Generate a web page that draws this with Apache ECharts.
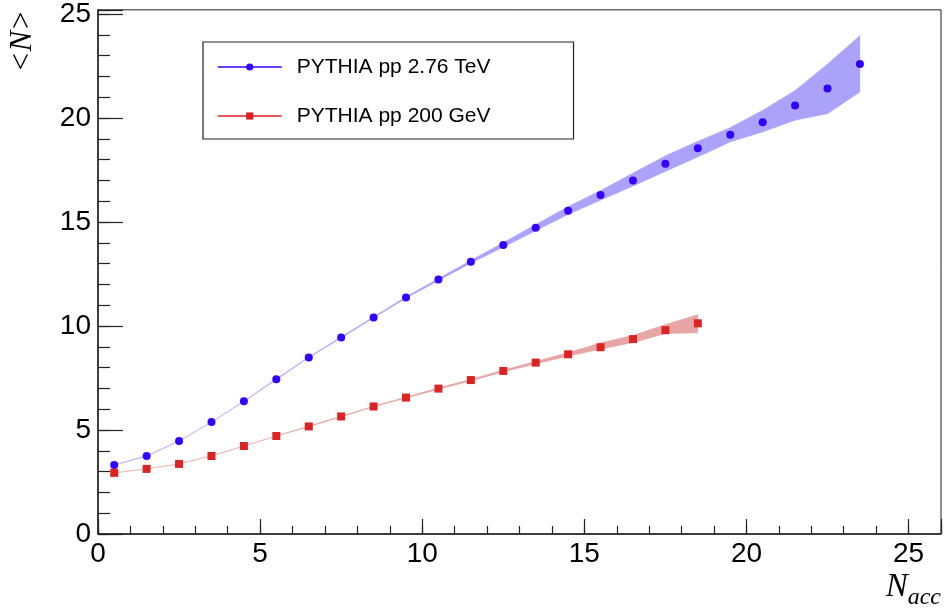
<!DOCTYPE html>
<html>
<head>
<meta charset="utf-8">
<script src="https://cdn.jsdelivr.net/npm/echarts@6/dist/echarts.min.js"></script>
<style>html,body{margin:0;padding:0;background:#fff;}#c{width:944px;height:610px;}</style>
</head>
<body>
<div id="c"></div>
<script>
// N_acc bin centres
const xBlue = [0.5,1.5,2.5,3.5,4.5,5.5,6.5,7.5,8.5,9.5,10.5,11.5,12.5,13.5,14.5,15.5,16.5,17.5,18.5,19.5,20.5,21.5,22.5,23.5];
const xRed  = [0.5,1.5,2.5,3.5,4.5,5.5,6.5,7.5,8.5,9.5,10.5,11.5,12.5,13.5,14.5,15.5,16.5,17.5,18.5];
// PYTHIA pp 2.76 TeV: mean and band
const blueMean = [3.32,3.75,4.47,5.38,6.38,7.44,8.49,9.45,10.41,11.37,12.23,13.09,13.9,14.72,15.54,16.3,17.0,17.8,18.54,19.2,19.8,20.6,21.42,22.6];
const blueLow  = [3.31,3.74,4.46,5.37,6.37,7.42,8.47,9.42,10.38,11.33,12.18,13.02,13.79,14.58,15.36,16.05,16.72,17.43,18.12,18.85,19.33,19.89,20.20,21.25];
const blueHigh = [3.33,3.76,4.48,5.39,6.39,7.46,8.51,9.48,10.44,11.41,12.28,13.16,14.01,14.88,15.75,16.52,17.35,18.19,18.88,19.54,20.37,21.32,22.60,23.96];
// PYTHIA pp 200 GeV: mean and band
const redMean = [2.94,3.13,3.37,3.75,4.23,4.71,5.17,5.65,6.13,6.56,6.99,7.40,7.84,8.24,8.64,8.98,9.37,9.80,10.13];
const redLow  = [2.93,3.12,3.36,3.74,4.22,4.70,5.15,5.63,6.11,6.53,6.95,7.36,7.79,8.17,8.54,8.88,9.20,9.63,9.67];
const redHigh = [2.95,3.14,3.38,3.76,4.24,4.72,5.19,5.67,6.15,6.59,7.03,7.44,7.89,8.31,8.72,9.20,9.55,10.07,10.55];
// axis ticks
const xMajor = 5, xMinor = 1, xMin = 0, xMax = 26;
const yMajor = 5, yMinor = 1, yMin = 0, yMax = 25.2;
const names = ['PYTHIA pp 2.76 TeV', 'PYTHIA pp 200 GeV'];

const blueC = '#3300ff', blueBand = '#aba2fa';
const redC = '#dd2222', redBand = '#e8a5a5';
const FONT = 'Liberation Sans, Arial, sans-serif';

function pairs(xs, ys){ return xs.map((x,i)=>[x, ys[i]]); }
function bandData(xs, lo, hi){ return xs.map((x,i)=>[x, lo[i], hi[i]]); }
function bandSeries(xs, lo, hi, color){
  return {
    type:'custom', silent:true, z:1,
    data: bandData(xs, lo, hi),
    encode:{x:0, y:[1,2]},
    renderItem:function(params, api){
      if (params.dataIndex !== 0) return null;
      const upper = xs.map((x,i)=>api.coord([x, hi[i]]));
      const lower = xs.map((x,i)=>api.coord([x, lo[i]])).reverse();
      return {type:'polygon', shape:{points: upper.concat(lower)},
              style:{fill:color, stroke:color, lineWidth:0.4, opacity:1}};
    }
  };
}

const chart = echarts.init(document.getElementById('c'), null, {renderer:'canvas'});
const axisLineStyle = {color:'#222', width:1.5};
const option = {
  animation:false,
  backgroundColor:'#fff',
  grid:{left:98, right:2, top:9, bottom:75, show:true, borderColor:'#222', borderWidth:1, containLabel:false},
  xAxis:[
    {type:'value', min:xMin, max:xMax, interval:xMajor, position:'bottom',
     axisLine:{show:true, onZero:false, lineStyle:axisLineStyle},
     axisTick:{show:true, inside:true, length:15, lineStyle:{color:'#222', width:1.2}},
     axisLabel:{color:'#000', fontFamily:FONT, fontSize:28, margin:6,
       formatter:v=> (v % xMajor === 0 ? String(v) : '')},
     splitLine:{show:false},
     name:'{n|N}{s|acc}', nameLocation:'end', nameGap:0,
     nameTextStyle:{align:'right', verticalAlign:'top', padding:[30,0,0,0],
       rich:{n:{fontFamily:'Liberation Serif, Times New Roman, serif', fontStyle:'italic', fontSize:33, color:'#000'},
             s:{fontFamily:'Liberation Serif, Times New Roman, serif', fontStyle:'italic', fontSize:24, color:'#000', padding:[22,0,0,0]}}}
    },
    {type:'value', min:xMin, max:xMax, interval:xMinor, position:'bottom',
     axisLine:{show:false, onZero:false},
     axisTick:{show:true, inside:true, length:8, lineStyle:{color:'#222', width:1.2}},
     axisLabel:{show:false}, splitLine:{show:false}}
  ],
  yAxis:[
    {type:'value', min:yMin, max:yMax, interval:yMajor, position:'left',
     axisLine:{show:true, onZero:false, lineStyle:axisLineStyle},
     axisTick:{show:true, inside:true, length:25, lineStyle:{color:'#222', width:1.2}},
     axisLabel:{color:'#000', fontFamily:FONT, fontSize:28, margin:7,
       formatter:v=> (v % yMajor === 0 ? String(v) : '')},
     splitLine:{show:false}},
    {type:'value', min:yMin, max:yMax, interval:yMinor, position:'left',
     axisLine:{show:false, onZero:false},
     axisTick:{show:true, inside:true, length:12, lineStyle:{color:'#222', width:1.2}},
     axisLabel:{show:false}, splitLine:{show:false}}
  ],
  legend:{
    left:203, top:42, orient:'vertical', backgroundColor:'#fff',
    borderColor:'#222', borderWidth:1.2, borderRadius:0,
    padding:[13,83,11,14], itemGap:25, itemWidth:64, itemHeight:9,
    textStyle:{fontFamily:FONT, fontSize:21, color:'#000', padding:[0,0,0,10], lineHeight:24},
    data:[
      {name:names[0], lineStyle:{color:blueC, width:1.5, opacity:1}, itemStyle:{color:blueC}},
      {name:names[1], lineStyle:{color:redC, width:1.5, opacity:1}, itemStyle:{color:redC}}
    ]
  },
  graphic:[
    {type:'text', left:7, top:10, rotation:Math.PI/2,
     style:{text:'<N>', fontFamily:'Liberation Serif, Times New Roman, serif', fontStyle:'italic', fontSize:31, fill:'#000'}}
  ],
  series:[
    bandSeries(xBlue, blueLow, blueHigh, blueBand),
    bandSeries(xRed, redLow, redHigh, redBand),
    {name:names[0], type:'line', data:pairs(xBlue, blueMean), symbol:'circle', symbolSize:8,
     itemStyle:{color:blueC}, lineStyle:{opacity:0, color:blueC}, z:5},
    {name:names[1], type:'line', data:pairs(xRed, redMean), symbol:'rect', symbolSize:8,
     itemStyle:{color:redC}, lineStyle:{opacity:0, color:redC}, z:5}
  ]
};
chart.setOption(option);
</script>
</body>
</html>
